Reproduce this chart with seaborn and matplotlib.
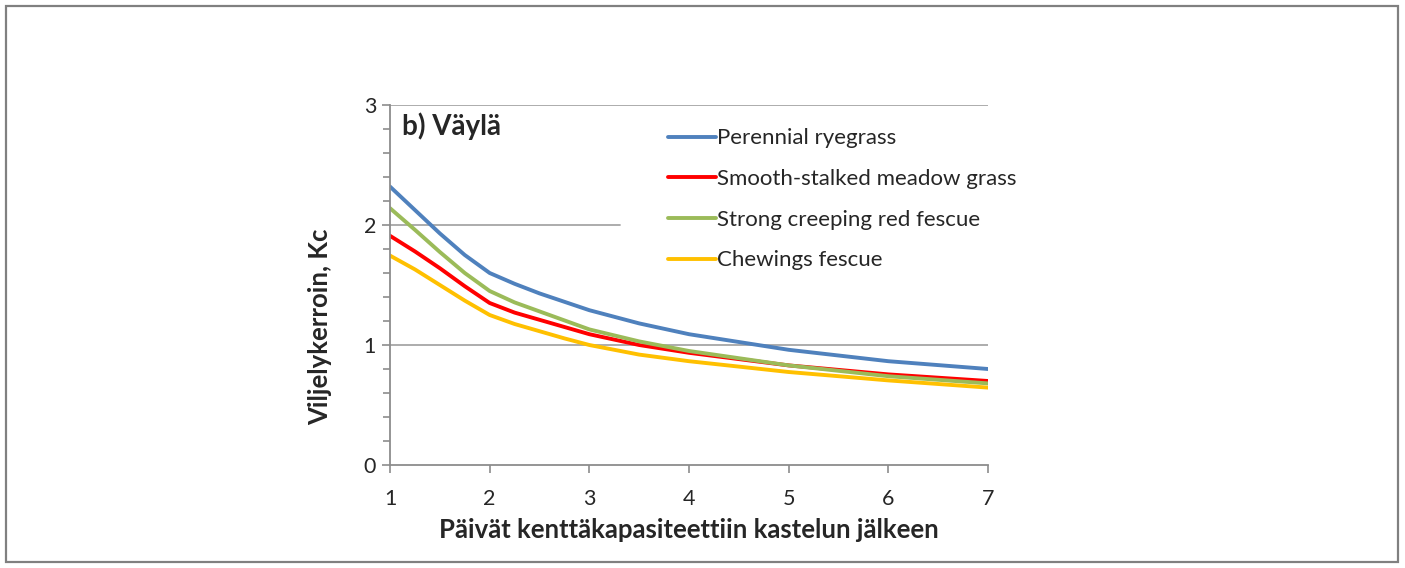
import numpy as np
import pandas as pd
import matplotlib
matplotlib.use("Agg")
import matplotlib.pyplot as plt
from matplotlib.patches import Rectangle
from matplotlib.ticker import MultipleLocator
import seaborn as sns

# paivat kastelun jalkeen (luettu kuvasta)
paivat = [1, 1.25, 1.5, 1.75, 2, 2.25, 2.5, 2.75, 3, 3.5, 4, 5, 6, 7]
perennial = [2.32, 2.125, 1.93, 1.75, 1.60, 1.51, 1.43, 1.36, 1.29, 1.18, 1.09, 0.96, 0.865, 0.80]
smooth = [1.91, 1.78, 1.64, 1.49, 1.35, 1.27, 1.21, 1.15, 1.09, 1.0, 0.935, 0.83, 0.755, 0.70]
strong = [2.14, 1.96, 1.775, 1.60, 1.45, 1.355, 1.28, 1.205, 1.13, 1.03, 0.95, 0.83, 0.74, 0.68]
chewings = [1.745, 1.63, 1.50, 1.37, 1.25, 1.175, 1.115, 1.055, 1.0, 0.92, 0.865, 0.775, 0.705, 0.645]

lajit = ["Perennial ryegrass", "Smooth-stalked meadow grass",
         "Strong creeping red fescue", "Chewings fescue"]
varit = ["#4F81BD", "#FF0000", "#9BBB59", "#FFC000"]

df = pd.DataFrame({
    "paiva": paivat * 4,
    "kc": perennial + smooth + strong + chewings,
    "laji": sum([[l] * len(paivat) for l in lajit], []),
})

sns.set_style("white")
plt.rcParams["font.family"] = ["Lato", "DejaVu Sans"]

fig = plt.figure(figsize=(14.05, 5.68), dpi=100)
ax = fig.add_axes([390 / 1405, 1 - 465 / 568, 598 / 1405, 360 / 568])

# ruudukko
harmaa = "#A6A6A6"
ax.axhline(1, color=harmaa, lw=1.3, zorder=0)
ax.axhline(2, xmax=0.385, color=harmaa, lw=1.3, zorder=0)
ax.axhline(3, color=harmaa, lw=1.3, zorder=0)

sns.lineplot(data=df, x="paiva", y="kc", hue="laji", hue_order=lajit,
             palette=dict(zip(lajit, varit)), linewidth=2.8, ax=ax)

ax.set_xlim(1, 7)
ax.set_ylim(0, 3)
ax.set_xticks(range(1, 8))
ax.set_yticks([0, 1, 2, 3])
ax.yaxis.set_minor_locator(MultipleLocator(0.2))
for s in ["top", "right"]:
    ax.spines[s].set_visible(False)
for s in ["left", "bottom"]:
    ax.spines[s].set_color("#8C8C8C")
    ax.spines[s].set_linewidth(1.3)
ax.tick_params(axis="both", which="major", direction="out", length=6,
               width=1.2, color="#8C8C8C", labelsize=15.5)
ax.tick_params(axis="y", which="minor", direction="out", length=5,
               width=1.2, color="#8C8C8C", left=True)
ax.tick_params(axis="x", which="both", bottom=True, pad=11)
ax.tick_params(axis="y", which="major", left=True, pad=4)

ax.set_xlabel("Päivät kenttäkapasiteettiin kastelun jälkeen",
              fontsize=18.5, fontweight="bold", labelpad=7)
ax.set_ylabel("Viljelykerroin, Kc", fontsize=18.5, fontweight="bold")
ax.yaxis.set_label_coords(-0.097, 0.383)

ax.text(0.02, 0.940, "b) Väylä", transform=ax.transAxes, fontsize=20,
        fontweight="bold", va="center", ha="left")

ax.legend(loc="upper left", bbox_to_anchor=(0.465, 0.935), frameon=False,
          fontsize=16, handlelength=2.15, handletextpad=0.05,
          labelspacing=0.93, borderpad=0, borderaxespad=0)

# kuvan reunus
fig.patches.append(Rectangle((6 / 1405, 6 / 568), 1392 / 1405, 556 / 568,
                             transform=fig.transFigure, fill=False,
                             edgecolor="#808080", lw=1.6))

fig.savefig("out.png", dpi=100)
